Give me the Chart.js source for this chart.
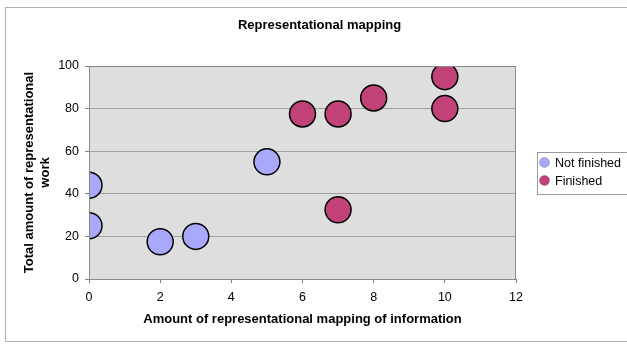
<!DOCTYPE html>
<html>
<head>
<meta charset="utf-8">
<script src="https://cdn.jsdelivr.net/npm/chart.js@4/dist/chart.umd.min.js"></script>
<style>
  html, body { margin: 0; padding: 0; background: #fff; }
  #wrap { width: 627px; height: 344px; position: relative; }
</style>
</head>
<body>
<div id="wrap"><canvas id="chart" width="627" height="344"></canvas></div>
<script>
// data
const seriesNames = ["Not finished", "Finished"];
const notFinishedX = [0, 0, 2, 3, 5];
const notFinishedY = [44, 25, 17.5, 20, 55];
const finishedX = [6, 7, 7, 8, 10, 10];
const finishedY = [77.5, 77.5, 32.5, 85, 95, 80];
const xTicks = [0, 2, 4, 6, 8, 10, 12];
const yTicks = [0, 20, 40, 60, 80, 100];

const FONT = "'Liberation Sans', Arial, sans-serif";

function toPoints(xs, ys) {
  return xs.map((x, i) => ({ x: x, y: ys[i] }));
}

// grey plot area + outer frame + boxed legend
const frame = {
  id: "frame",
  beforeDraw(chart) {
    const ctx = chart.ctx;
    const a = chart.chartArea;
    ctx.save();
    ctx.strokeStyle = "#b0b0b0";
    ctx.lineWidth = 1;
    ctx.strokeRect(5.5, 7.5, 700, 334);
    ctx.fillStyle = "#dedede";
    ctx.fillRect(a.left, a.top, a.right - a.left, a.bottom - a.top);
    ctx.restore();
  },
  afterDraw(chart) {
    const ctx = chart.ctx;
    const a = chart.chartArea;
    ctx.save();
    ctx.strokeStyle = "#8a8a8a";
    ctx.lineWidth = 1;
    ctx.strokeRect(a.left + 0.5, a.top + 0.5, a.right - a.left - 1, a.bottom - a.top);
    ctx.restore();

    // legend drawn by hand so the box sits where the original has it
    const lx = 537, ly = 152, lw = 100, lh = 42;
    ctx.save();
    ctx.strokeStyle = "#9a9a9a";
    ctx.lineWidth = 1;
    ctx.strokeRect(lx + 0.5, ly + 0.5, lw, lh);
    ctx.font = "12.5px " + FONT;
    ctx.textBaseline = "middle";
    chart.data.datasets.forEach((ds, i) => {
      const cy = ly + 10.5 + i * 18;
      ctx.beginPath();
      ctx.arc(lx + 7.5, cy, 5, 0, Math.PI * 2);
      ctx.fillStyle = ds.backgroundColor;
      ctx.fill();
      ctx.strokeStyle = "rgba(0,0,0,0.2)";
      ctx.stroke();
      ctx.fillStyle = "#000";
      ctx.fillText(ds.label, lx + 18, cy + 1);
    });
    ctx.restore();
  }
};

new Chart(document.getElementById("chart"), {
  type: "scatter",
  data: {
    datasets: [
      {
        label: seriesNames[0],
        data: toPoints(notFinishedX, notFinishedY),
        backgroundColor: "#a9a9fb",
        borderColor: "#000",
        borderWidth: 1.5,
        pointRadius: 13,
        pointHoverRadius: 13,
        clip: 0
      },
      {
        label: seriesNames[1],
        data: toPoints(finishedX, finishedY),
        backgroundColor: "#c04277",
        borderColor: "#000",
        borderWidth: 1.5,
        pointRadius: 13,
        pointHoverRadius: 13,
        clip: 0
      }
    ]
  },
  options: {
    responsive: false,
    animation: false,
    layout: { padding: { left: 12, right: 0, top: 0, bottom: 0 } },
    plugins: {
      legend: { display: false },
      tooltip: { enabled: false },
      title: {
        display: true,
        text: "Representational mapping",
        color: "#000",
        font: { family: FONT, size: 13, weight: "bold", lineHeight: 1.2 },
        padding: { top: 17.2, bottom: 33.2 }
      }
    },
    scales: {
      x: {
        type: "linear",
        min: 0,
        max: 12,
        afterBuildTicks: (scale) => { scale.ticks = xTicks.map(v => ({ value: v })); },
        afterFit: (scale) => { scale.height = 65; },
        grid: { drawOnChartArea: false, color: "#808080", tickLength: 4, tickColor: "#808080" },
        border: { color: "#808080" },
        ticks: { color: "#000", padding: 7, font: { family: FONT, size: 12.5 } },
        title: {
          display: true,
          text: "Amount of representational mapping of information",
          color: "#000",
          font: { family: FONT, size: 13, weight: "bold", lineHeight: 1.2 },
          padding: { top: 0, bottom: 17.2 }
        }
      },
      y: {
        type: "linear",
        min: 0,
        max: 100,
        afterBuildTicks: (scale) => { scale.ticks = yTicks.map(v => ({ value: v })); },
        afterFit: (scale) => { scale.width = 77; },
        grid: { color: "#a0a0a0", tickLength: 4, tickColor: "#808080" },
        border: { color: "#808080" },
        ticks: { color: "#000", padding: 6, font: { family: FONT, size: 12.5 } },
        title: {
          display: true,
          text: ["Total amount of representational", "work"],
          color: "#000",
          font: { family: FONT, size: 13, weight: "bold", lineHeight: 1.25 },
          padding: { top: 9, bottom: 0 }
        }
      },
      // empty right-hand column that holds the space for the legend box
      side: {
        type: "linear",
        position: "right",
        afterFit: (scale) => { scale.width = 111; },
        grid: { display: false },
        border: { display: false },
        ticks: { display: false }
      }
    }
  },
  plugins: [frame]
});
</script>
</body>
</html>
